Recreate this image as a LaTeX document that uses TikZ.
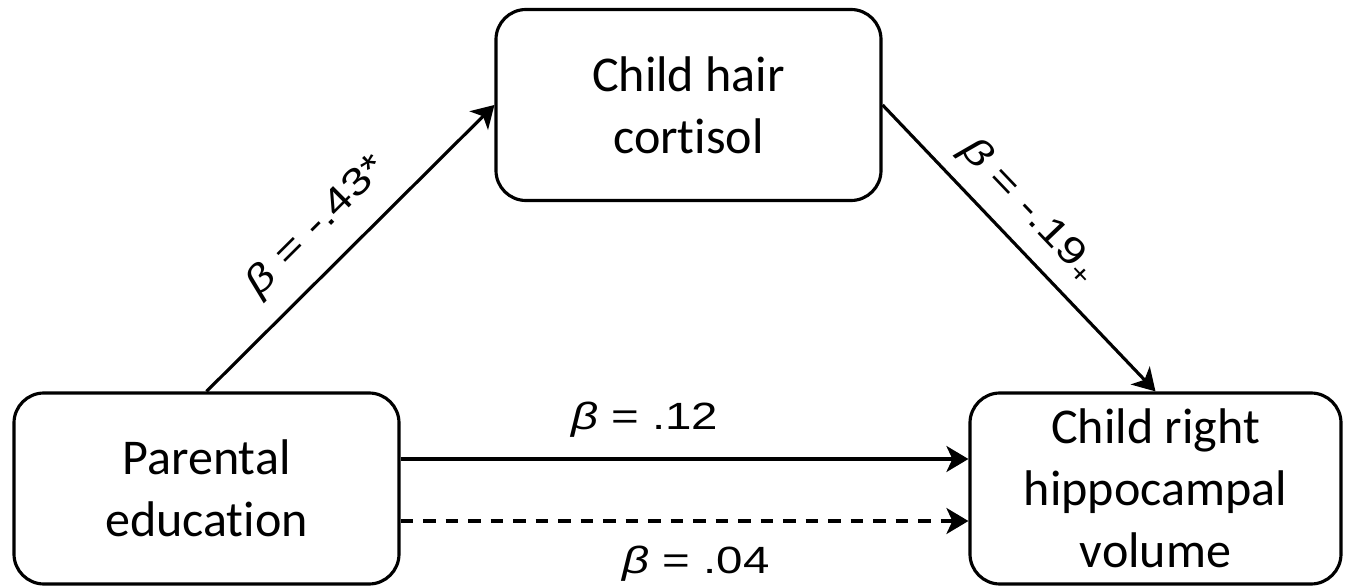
\documentclass[tikz,border=0pt]{standalone}
\usepackage{fontspec}
\setmainfont{Carlito}
\newfontfamily\coeffont[FakeStretch=1.25]{Liberation Sans}
\usetikzlibrary{arrows.meta, positioning}

\begin{document}
\begin{tikzpicture}[
  var/.style={draw, line width=1.8pt, rounded corners=0.6cm, align=center, minimum width=7.7cm, minimum height=3.82cm, inner sep=0pt, font=\fontsize{28.5}{35.3}\selectfont},
  link/.style={line width=1.8pt, -{Stealth[length=0.44cm, width=0.52cm, inset=0.12cm]}},
  coef/.style={inner sep=0pt, font=\coeffont\fontsize{21.6}{26}\selectfont}
]
\useasboundingbox (0,0) rectangle (26.92,11.74);

% Mediation model boxes (\kern0pt keeps t and i apart)
\node[var] (parent) at (4.13,1.97) {Parental\\educat\kern0pt ion};
\node[var] (cortisol) at (13.77,9.64) {Child hair\\cort\kern0pt isol};
\node[var, minimum width=7.42cm] (hippo) at (23.11,1.97) {Child right\\hippocampal\\volume};

% Paths a, b, c and c'
\draw[link] (parent.north) -- node[coef, sloped, above=0.4cm, pos=0.48] (pathA) {\textit{β} = -.43*} (cortisol.west);
\draw[link] (cortisol.east) -- node[coef, sloped, above=0.28cm, pos=0.45] (pathB) {\textit{β} = -.19\textsubscript{+}} (hippo.north);
\draw[link] ([yshift=0.59cm]parent.east) -- node[coef, above=0.4cm, pos=0.43] (pathC) {\textit{β} = .12} ([yshift=0.59cm]hippo.west);
\draw[link, dash pattern=on 0.25cm off 0.2cm] ([yshift=-0.65cm]parent.east) -- node[coef, below=0.46cm, pos=0.52] (pathD) {\textit{β} = .04} ([yshift=-0.65cm]hippo.west);

\end{tikzpicture}
\end{document}
